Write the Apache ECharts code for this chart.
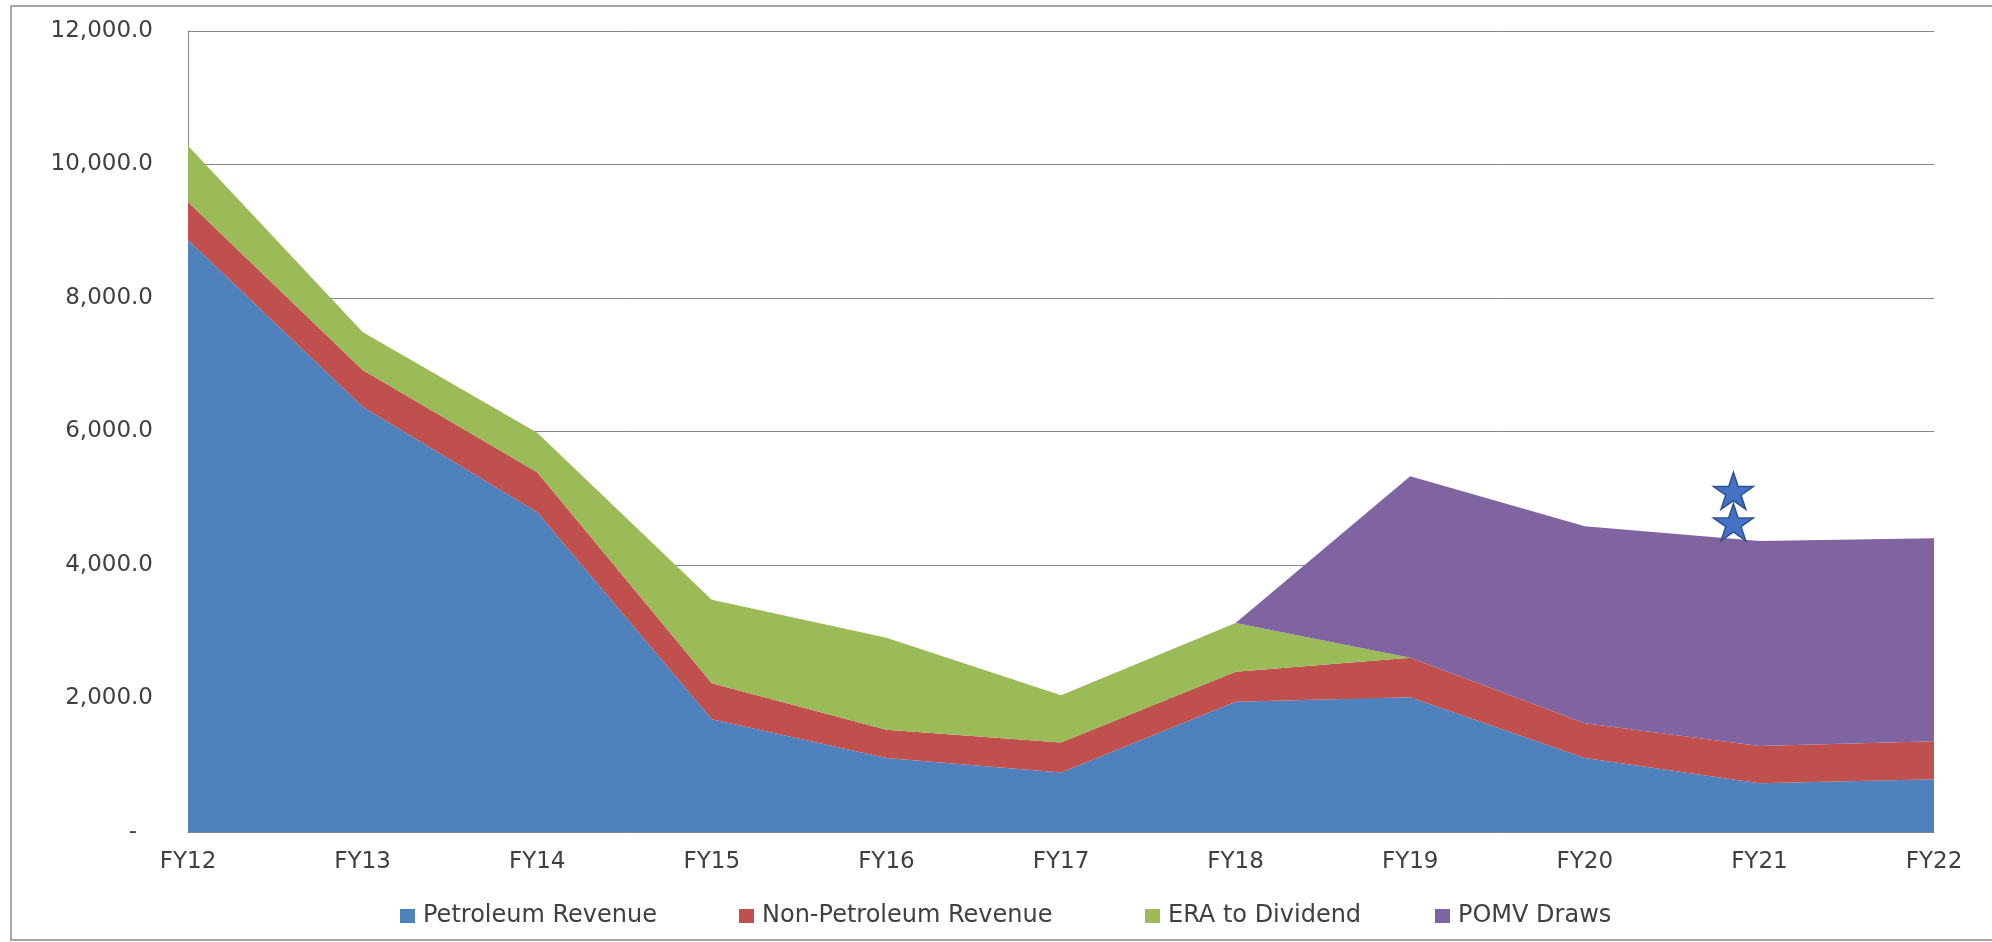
<!DOCTYPE html>
<html>
<head>
<meta charset="utf-8">
<script src="https://cdn.jsdelivr.net/npm/echarts@6/dist/echarts.min.js"></script>
<style>
html,body{margin:0;padding:0;background:#fff;}
#chart{width:1992px;height:942px;}
</style>
</head>
<body>
<div id="chart"></div>
<script>
const categories = ['FY12','FY13','FY14','FY15','FY16','FY17','FY18','FY19','FY20','FY21','FY22'];
const petroleumRevenue = [8870, 6370, 4790, 1690, 1110, 890, 1950, 2020, 1110, 730, 790];
const nonPetroleumRevenue = [570, 550, 600, 540, 420, 450, 450, 590, 520, 560, 570];
const eraToDividend = [840, 570, 590, 1250, 1380, 710, 730, 0, 0, 0, 0];
const pomvDraws = [0, 0, 0, 0, 0, 0, 0, 2720, 2950, 3070, 3040];
const starMarks = [['FY21', 5110], ['FY21', 4640]];
const yTicks = [0, 2000, 4000, 6000, 8000, 10000, 12000];

const colors = {
  petro: '#4F81BD', nonpetro: '#C0504D', era: '#9BBB59', pomv: '#8064A2'
};
const starPath = 'path://M50,0 L61.2,34.5 L97.6,34.5 L68.2,55.9 L79.4,90.5 L50,69.1 L20.6,90.5 L31.8,55.9 L2.4,34.5 L38.8,34.5 Z';

function areaSeries(name, data, color) {
  return {
    name: name, type: 'line', stack: 'total', data: data,
    showSymbol: false, symbol: 'none',
    lineStyle: { width: 0, color: color },
    itemStyle: { color: color },
    areaStyle: { color: color, opacity: 1 },
    emphasis: { disabled: true }
  };
}

const fontFam = '"DejaVu Sans", Verdana, sans-serif';
function legendAt(name, left) {
  return {
    data: [name], left: left, top: 899,
    itemWidth: 15, itemHeight: 14, itemGap: 0,
    icon: 'rect',
    textStyle: { fontFamily: fontFam, fontSize: 24, color: '#404040', padding: [0,0,0,3] },
    selectedMode: false
  };
}

const chart = echarts.init(document.getElementById('chart'));
chart.setOption({
  animation: false,
  backgroundColor: '#ffffff',
  graphic: [{
    type: 'rect', shape: { x: 11, y: 6, width: 2000, height: 934 },
    style: { fill: 'none', stroke: '#A6A6A6', lineWidth: 2 }, silent: true, z: -10
  }],
  grid: { left: 188, right: 58, top: 31, bottom: 110 },
  legend: [
    legendAt('Petroleum Revenue', 395),
    legendAt('Non-Petroleum Revenue', 734),
    legendAt('ERA to Dividend', 1140),
    legendAt('POMV Draws', 1430)
  ],
  xAxis: {
    type: 'category', data: categories, boundaryGap: false,
    axisLine: { show: true, lineStyle: { color: '#868686', width: 1 } },
    axisTick: { show: false },
    axisLabel: { color: '#404040', fontFamily: fontFam, fontSize: 23, margin: 19 },
    splitLine: { show: false }
  },
  yAxis: {
    type: 'value', min: yTicks[0], max: yTicks[yTicks.length - 1], interval: 2000,
    axisLine: { show: true, lineStyle: { color: '#868686', width: 1 } },
    axisTick: { show: false },
    axisLabel: {
      color: '#404040', fontFamily: fontFam, fontSize: 23, margin: 35,
      formatter: function (v) {
        if (v === 0) return '{z|-}';
        return v.toLocaleString('en-US', { minimumFractionDigits: 1, maximumFractionDigits: 1 });
      },
      rich: { z: { fontFamily: fontFam, fontSize: 23, color: '#404040', padding: [0, 16, 0, 0] } }
    },
    splitLine: { show: true, lineStyle: { color: '#868686', width: 1 } }
  },
  series: [
    areaSeries('Petroleum Revenue', petroleumRevenue, colors.petro),
    areaSeries('Non-Petroleum Revenue', nonPetroleumRevenue, colors.nonpetro),
    areaSeries('ERA to Dividend', eraToDividend, colors.era),
    areaSeries('POMV Draws', pomvDraws, colors.pomv),
    {
      name: 'stars', type: 'scatter', data: starMarks,
      symbol: starPath, symbolSize: [40, 37], symbolOffset: [-26, 0],
      itemStyle: { color: '#4472C4', borderColor: '#2F528F', borderWidth: 1.5, opacity: 1 },
      z: 10, silent: true
    }
  ]
});
</script>
</body>
</html>
